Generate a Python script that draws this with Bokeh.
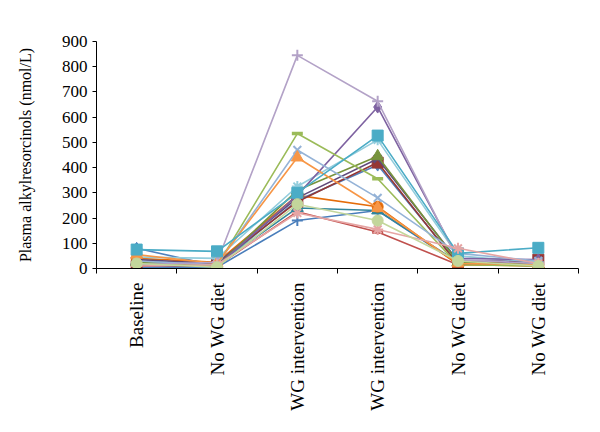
import math
from bokeh.plotting import figure
from bokeh.models import FixedTicker, Range1d
from bokeh.embed import file_html
from bokeh.resources import INLINE

categories = ["Baseline", "No WG diet", "WG intervention", "WG intervention", "No WG diet", "No WG diet"]

# series values per category (nmol/L)
lavender_plus = [15, 25, 845, 663, 35, 20]
green_dash = [20, 10, 535, 356, 15, 10]
steel_x = [30, 15, 470, 280, 60, 30]
orange_triangle = [55, 20, 440, 240, 20, 15]
purple_diamond = [20, 10, 290, 640, 40, 35]
aqua_square = [75, 68, 300, 527, 60, 82]
lightaqua_asterisk = [45, 40, 325, 510, 50, 25]
olive_triangle = [25, 10, 310, 445, 25, 15]
darkpurple_x = [35, 20, 280, 435, 30, 30]
darkred_square = [10, 20, 265, 420, 15, 35]
blue_diamond = [80, 10, 270, 410, 20, 25]
darkorange_circle = [40, 25, 290, 245, 15, 10]
teal_triangle = [30, 15, 240, 230, 25, 15]
lightgreen_circle = [20, 5, 255, 190, 30, 10]
blue_plus = [5, 5, 190, 230, 20, 10]
pink_asterisk = [10, 15, 220, 155, 80, 20]
red_dash = [5, 10, 225, 145, 15, 25]

series = [
    (red_dash, "#C0504D", "dash"),
    (blue_plus, "#4A7EBB", "cross"),
    (teal_triangle, "#31859C", "triangle"),
    (darkorange_circle, "#E46C0A", "circle"),
    (blue_diamond, "#4F81BD", "diamond"),
    (darkred_square, "#953735", "square"),
    (darkpurple_x, "#604A7B", "x"),
    (olive_triangle, "#77933C", "triangle"),
    (lightaqua_asterisk, "#93CDDD", "asterisk"),
    (purple_diamond, "#7E62A1", "diamond"),
    (green_dash, "#9BBB59", "dash"),
    (steel_x, "#95B3D7", "x"),
    (orange_triangle, "#F79646", "triangle"),
    (lavender_plus, "#B3A2C7", "cross"),
    (aqua_square, "#4BACC6", "square"),
    (pink_asterisk, "#E6A5A4", "asterisk"),
    (lightgreen_circle, "#C3D69B", "circle"),
]

xs = [i + 0.5 for i in range(len(categories))]

p = figure(width=584, height=416, output_backend="svg", toolbar_location=None,
           x_range=Range1d(0, len(categories)), y_range=Range1d(0, 900),
           min_border_left=96, min_border_right=6, min_border_top=41, min_border_bottom=148)
p.outline_line_color = None
p.xgrid.grid_line_color = None
p.ygrid.grid_line_color = None
p.background_fill_color = "white"
p.border_fill_color = "white"

for vals, col, mk in series:
    p.line(xs, vals, line_color=col, line_width=1.6)
    if mk in ("cross", "x", "asterisk", "dash"):
        p.scatter(xs, vals, marker=mk, size=11, line_color=col, line_width=2 if mk != "dash" else 3.5,
                  fill_color=col)
    else:
        sz = 12 if mk in ("diamond", "triangle") else 11
        p.scatter(xs, vals, marker=mk, size=sz, line_color=col, fill_color=col)

font = "Liberation Serif"
xa = p.xaxis[0]
xa.ticker = FixedTicker(ticks=xs, minor_ticks=list(range(len(categories) + 1)))
xa.major_label_overrides = {x: c for x, c in zip(xs, categories)}
xa.major_label_orientation = math.pi / 2
xa.major_tick_out = 0
xa.major_tick_in = 0
xa.minor_tick_out = 5
xa.minor_tick_in = 0
xa.major_label_standoff = 9
xa.major_label_text_font = font
xa.major_label_text_font_size = "19px"
xa.major_label_text_color = "black"
xa.axis_line_color = "black"
xa.minor_tick_line_color = "black"

ya = p.yaxis[0]
ya.ticker = FixedTicker(ticks=list(range(0, 901, 100)))
ya.major_tick_out = 4
ya.major_tick_in = 0
ya.minor_tick_out = 0
ya.minor_tick_in = 0
ya.major_label_standoff = 5
ya.major_label_text_font = font
ya.major_label_text_font_size = "17px"
ya.major_label_text_color = "black"
ya.axis_label = "Plasma alkylresorcinols (nmol/L)"
ya.axis_label_text_font = font
ya.axis_label_text_font_size = "16px"
ya.axis_label_text_font_style = "normal"
ya.axis_label_text_color = "black"
ya.axis_label_standoff = 25
ya.axis_line_color = "black"

open("out.html", "w").write(file_html(p, INLINE))
